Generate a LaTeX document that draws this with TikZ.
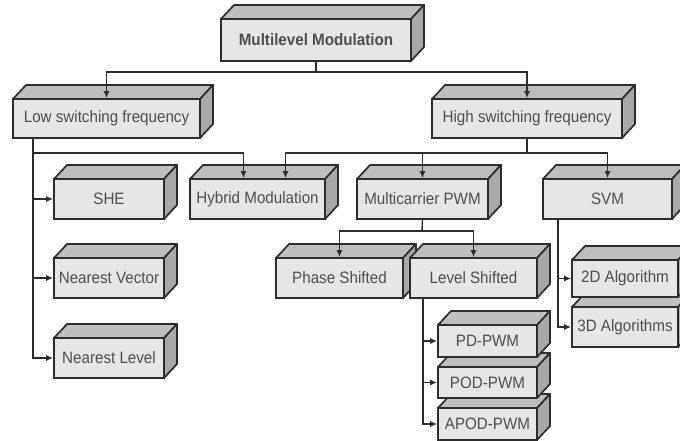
\documentclass[tikz,border=0pt]{standalone}
\usepackage{fontspec}
\setmainfont{Liberation Sans}
\newfontfamily\boxfont[FakeStretch=0.92]{Liberation Sans}
\usetikzlibrary{arrows.meta}
\definecolor{frontgray}{RGB}{230,230,230}
\definecolor{topgray}{RGB}{190,190,190}
\definecolor{sidegray}{RGB}{168,168,168}
\definecolor{edgegray}{RGB}{45,45,45}
\definecolor{txtgray}{RGB}{78,78,78}

\tikzset{
	frontface/.style={draw=edgegray, fill=frontgray, line width=1.7bp, inner sep=0pt,
		text=txtgray, font=\boxfont\fontsize{16.5bp}{19bp}\selectfont},
	topface/.style={draw=edgegray, fill=topgray, line width=1.7bp, line join=round},
	sideface/.style={draw=edgegray, fill=sidegray, line width=1.7bp, line join=round},
	link/.style={draw=edgegray, line width=1.4bp},
	arr/.style={link, -{Latex[length=7bp,width=6bp]}}
}

% 3D block: name, front top-left (x,y), front bottom-right (x,y), text
\newcommand{\solidbox}[6]{%
	\filldraw[topface] (#2,#3) -- ++(\dx,-\dy) -- ({#4+\dx},{#3-\dy}) -- (#4,#3) -- cycle;
	\filldraw[sideface] (#4,#3) -- ({#4+\dx},{#3-\dy}) -- ({#4+\dx},{#5-\dy}) -- (#4,#5) -- cycle;
	\node[frontface, minimum width={(#4-#2)*1bp}, minimum height={(#5-#3)*1bp}]
		(#1) at ({(#2+#4)/2},{(#3+#5)/2}) {#6};
}

\begin{document}
\begin{tikzpicture}[x=1bp, y=-1bp]
	\def\dx{13}
	\def\dy{14}
	\useasboundingbox (0,0) rectangle (680,441);
	\clip (0,0) rectangle (680,441);

	% --- top levels ---
	\solidbox{top}{221}{19}{411}{61}{\textbf{Multilevel Modulation}}
	\solidbox{low}{13}{99}{200}{138}{Low switching frequency}
	\solidbox{high}{432}{99}{622}{138}{High switching frequency}

	% --- second row ---
	\solidbox{she}{54}{179}{164}{219}{SHE}
	\solidbox{hyb}{190}{179}{325}{219}{Hybrid Modulation}
	\solidbox{mc}{357}{179}{488}{219}{Multicarrier PWM}
	\solidbox{svm}{543}{179}{672}{219}{SVM}

	% --- lower blocks ---
	\solidbox{nv}{54}{258}{164}{298}{Nearest Vector}
	\solidbox{nl}{54}{338}{164}{378}{Nearest Level}
	\solidbox{ps}{276}{258}{403}{298}{Phase Shifted}
	\solidbox{ls}{410}{258}{537}{298}{Level Shifted}
	\solidbox{dthree}{572}{307}{678}{347}{3D Algorithms}
	\solidbox{dtwo}{572}{260}{678}{297}{2D Algorithm}
	\solidbox{apod}{438}{408}{537}{440}{APOD-PWM}
	\solidbox{pod}{438}{367}{537}{398}{POD-PWM}
	\solidbox{pd}{438}{325}{537}{357}{PD-PWM}

	% --- junctions ---
	\coordinate (topj) at (316,72);
	\coordinate (lowbus) at (33,138);
	\coordinate (lowj) at (33,153);
	\coordinate (highj) at (527,153);
	\coordinate (mcj) at (422,231);
	\coordinate (lsbus) at (423,298);
	\coordinate (svmbus) at (558,219);

	% --- connectors ---
	\draw[link] (top.south) -- (topj);
	\draw[arr] (topj) -| (low.north);
	\draw[arr] (topj) -| (high.north);

	\draw[arr] (lowbus) |- (nl.west);
	\draw[arr] (she.west -| lowbus) -- (she.west);
	\draw[arr] (nv.west -| lowbus) -- (nv.west);
	\draw[arr] (lowj) -| ([xshift=-14bp]hyb.north);

	\draw[link] (high.south) -- (highj);
	\draw[arr] (highj) -| ([xshift=28bp]hyb.north);
	\draw[arr] (highj) -| (mc.north);
	\draw[arr] (highj) -| (svm.north);

	\draw[link] (mc.south) -- (mcj);
	\draw[arr] (mcj) -| (ps.north);
	\draw[arr] (mcj) -| (ls.north);

	\draw[arr] (lsbus) |- (apod.west);
	\draw[arr] (pd.west -| lsbus) -- (pd.west);
	\draw[arr] (pod.west -| lsbus) -- (pod.west);

	\draw[arr] (svmbus) |- (dthree.west);
	\draw[arr] (dtwo.west -| svmbus) -- (dtwo.west);
\end{tikzpicture}
\end{document}
